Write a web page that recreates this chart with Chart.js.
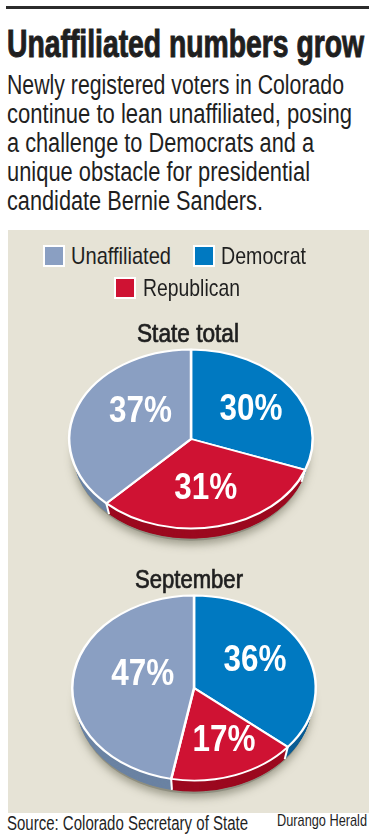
<!DOCTYPE html>
<html><head><meta charset="utf-8">
<script src="https://cdn.jsdelivr.net/npm/chart.js@4"></script>
<style>
html,body{margin:0;padding:0;background:#fff;width:375px;height:835px;overflow:hidden}
body{position:relative;font-family:"Liberation Sans Narrow","Liberation Sans",sans-serif;color:#1f1f1f}
.t{position:absolute;white-space:nowrap;transform-origin:0 0;line-height:1}
#rule{position:absolute;left:6px;top:6px;width:363px;height:3px;background:#2b2b2b}
#panel{position:absolute;left:8px;top:230px;width:361px;height:583px;background:#e6e3d6}
.sw{position:absolute;width:18px;height:18px;border:2px solid #fff}
canvas{position:absolute}
.cw{position:absolute}
</style></head><body>
<div id="rule"></div><div id="panel"></div>
<div class="cw" id="c1" style="left:21px;top:316px;width:340px;height:246px"><canvas id="pie1"></canvas></div>
<div class="cw" id="c2" style="left:23.5px;top:565px;width:340px;height:246px"><canvas id="pie2"></canvas></div>
<div id="texts"></div>
<script>
const categories = ["Democrat", "Republican", "Unaffiliated"];
const stateTotal = [30, 31, 37];
const september = [36, 17, 47];
const legendOrder = ["Unaffiliated", "Democrat", "Republican"];
const sliceColors = ["#0079c1", "#cf1233", "#8a9fc2"];
const sideColors = ["#0a5c94", "#9c0a20", "#6b83a3"];

const FONT = '"Liberation Sans Narrow","Liberation Sans",sans-serif';
function text(s, x, y, size, w, weight, extra) {
  const d = document.createElement('div');
  d.className = 't';
  d.textContent = s;
  d.style.left = x + 'px';
  d.style.top = y + 'px';
  d.style.fontSize = size + 'px';
  if (weight) d.style.fontWeight = weight;
  if (extra) d.style.webkitTextStroke = extra;
  document.getElementById('texts').appendChild(d);
  const m = d.getBoundingClientRect().width;
  d.style.transform = 'scaleX(' + (w / m) + ')';
}
text("Unaffiliated numbers grow", 7, 25, 38, 357, 'bold', '1px #1f1f1f');
const body = [
  ["Newly registered voters in Colorado", 337],
  ["continue to lean unaffiliated, posing", 345],
  ["a challenge to Democrats and a", 307],
  ["unique obstacle for presidential", 303],
  ["candidate Bernie Sanders.", 256]
];
body.forEach((l, i) => text(l[0], 7, 72 + i * 29, 27, l[1]));
text("Source: Colorado Secretary of State", 7, 813, 20, 241);
text("Durango Herald", 277, 812, 17, 90);
text("State total", 137, 321, 25, 102, null, '0.7px #1f1f1f');
text("September", 135, 567, 25, 108, null, '0.7px #1f1f1f');

const swatches = [[43, 245, 71, 100], [193, 245, 221, 85], [114, 277, 143, 97]];
legendOrder.forEach((name, i) => {
  const s = swatches[i];
  const b = document.createElement('div');
  b.className = 'sw';
  b.style.left = s[0] + 'px';
  b.style.top = s[1] + 'px';
  b.style.background = sliceColors[categories.indexOf(name)];
  document.getElementById('texts').appendChild(b);
  text(name, s[2], s[1] - 1, 24, s[3]);
});

const tilt = {
  id: 'tilt',
  beforeDatasetsDraw(chart, args, o) {
    const ctx = chart.ctx;
    const arcs = chart.getDatasetMeta(0).data;
    const a0 = arcs[0];
    const cx = a0.x, cy = a0.y, r = a0.outerRadius;
    ctx.save();
    ctx.translate(cx, cy);
    ctx.scale(1, o.k);
    ctx.translate(-cx, -cy);
    const d = o.depth / o.k;
    // soft ground shadow
    ctx.save();
    ctx.shadowColor = 'rgba(90,90,70,0.5)';
    ctx.shadowBlur = 9;
    ctx.shadowOffsetY = 4;
    ctx.fillStyle = '#8f8f80';
    ctx.beginPath();
    ctx.ellipse(cx, cy + d, r - 4, r - 1, 0, 0, Math.PI * 2);
    ctx.fill();
    ctx.restore();
    // extruded side
    for (let y = d; y > 0; y -= 0.6) {
      arcs.forEach((a, i) => {
        ctx.fillStyle = sideColors[i];
        ctx.beginPath();
        ctx.moveTo(cx, cy + y);
        ctx.arc(cx, cy + y, r - 4 * (y / d), a.startAngle, a.endAngle);
        ctx.closePath();
        ctx.fill();
      });
    }
    // white seams on the visible rim
    ctx.strokeStyle = '#fff';
    ctx.lineWidth = 2;
    arcs.forEach(a => {
      const s = Math.sin(a.startAngle), c = Math.cos(a.startAngle);
      if (s > 0.1) {
        ctx.beginPath();
        ctx.moveTo(cx + c * r, cy + s * r);
        ctx.lineTo(cx + c * (r - 4), cy + s * (r - 4) + d);
        ctx.stroke();
      }
    });
  },
  afterDatasetsDraw(chart, args, o) {
    const ctx = chart.ctx;
    ctx.restore();
    const arcs = chart.getDatasetMeta(0).data;
    const vals = chart.data.datasets[0].data;
    ctx.fillStyle = '#fff';
    ctx.textAlign = 'center';
    ctx.textBaseline = 'middle';
    ctx.font = 'bold 37px ' + FONT;
    arcs.forEach((a, i) => {
      const mid = (a.startAngle + a.endAngle) / 2;
      const x = a.x + Math.cos(mid) * a.outerRadius * 0.58 + o.nudge[i][0];
      const y = a.y + Math.sin(mid) * a.outerRadius * 0.58 * o.k + o.nudge[i][1];
      ctx.save();
      ctx.translate(x, y);
      ctx.scale(0.85, 1);
      ctx.fillText(vals[i] + '%', 0, 0);
      ctx.restore();
    });
  }
};

function pie(id, values, k, depth, nudge) {
  new Chart(document.getElementById(id), {
    type: 'pie',
    data: {
      labels: categories,
      datasets: [{ data: values, backgroundColor: sliceColors, borderColor: '#fff', borderWidth: 2.5, borderAlign: 'center' }]
    },
    options: {
      responsive: true, maintainAspectRatio: false, animation: false,
      layout: { padding: 0 },
      events: [],
      plugins: {
        legend: { display: false },
        tooltip: { enabled: false },
        tilt: { k, depth, nudge }
      }
    },
    plugins: [tilt]
  });
}
pie('pie1', stateTotal, 0.735, 13, [[2, 0], [-1, -1], [15, -8]]);
pie('pie2', september, 0.76, 14, [[-3, -4], [6, 2], [19, -8]]);
</script>
</body></html>
